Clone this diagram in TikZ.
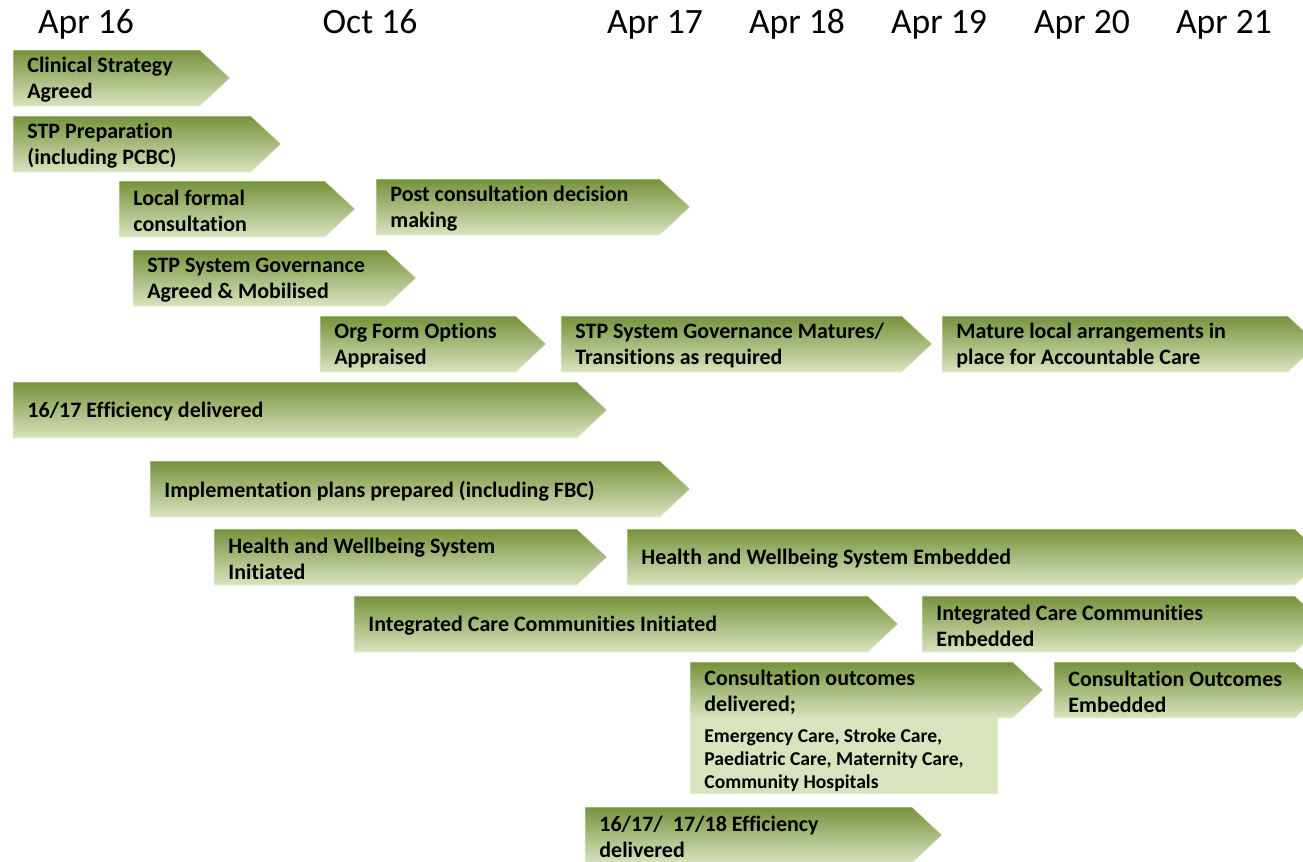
\documentclass[tikz,border=0pt]{standalone}
\usepackage{fontspec}
\setmainfont[Ligatures=NoCommon]{Carlito}
\definecolor{barTop}{RGB}{118,146,60}
\definecolor{barBot}{RGB}{216,228,190}

% one timeline bar: name, left x, tip x, top y, text
\newcommand{\phase}[5]{%
  \shade[bar] (#2,#4) -- (#3-30,#4) -- (#3,#4+28) -- (#3-30,#4+56) -- (#2,#4+56) -- cycle;
  \node[lbl] (#1) at (#2+14,#4+30) {#5};
}

\begin{document}
\begin{tikzpicture}[
x=0.5pt, y=-0.5pt,
bar/.style={top color=barTop, bottom color=barBot, draw=barBot!50!white, line width=0.3pt},
lbl/.style={anchor=west, align=left, inner sep=0pt, font=\fontsize{11}{13}\selectfont\bfseries},
small/.style={anchor=north west, align=left, inner sep=0pt, font=\fontsize{9.8}{11.6}\selectfont\bfseries},
yr/.style={anchor=base, inner sep=0pt, font=\fontsize{17.8}{20}\selectfont}
]
\useasboundingbox (0,0) rectangle (1303,862);
\clip (0,0) rectangle (1303,862);

\node[yr] (apr16) at (86,33) {Apr 16};
\node[yr] (oct16) at (370,33) {Oct 16};
\node[yr] (apr17) at (655,33) {Apr 17};
\node[yr] (apr18) at (797,33) {Apr 18};
\node[yr] (apr19) at (939,33) {Apr 19};
\node[yr] (apr20) at (1082,33) {Apr 20};
\node[yr] (apr21) at (1224,33) {Apr 21};

\phase{clin}{13}{230}{50}{Clinical Strategy\\Agreed}
\phase{prep}{13}{281}{116}{STP Preparation\\(including PCBC)}
\phase{local}{119}{355}{181}{Local formal\\consultation}
\phase{postc}{376}{690}{179}{Post consultation decision\\making}
\phase{govagr}{133}{416}{250}{STP System Governance\\Agreed \& Mobilised}
\phase{orgform}{320}{546}{316}{Org Form Options\\Appraised}
\phase{govmat}{561}{932}{316}{STP System Governance Matures/\\Transitions as required}
\phase{mature}{942}{1318}{316}{Mature local arrangements in\\place for Accountable Care}
\phase{effa}{13}{607}{382}{16/17 Efficiency delivered}
\phase{impl}{150}{690}{461}{Implementation plans prepared (including FBC)}
\phase{hwbi}{214}{607}{529}{Health and Wellbeing System\\Initiated}
\phase{hwbe}{627}{1325}{529}{Health and Wellbeing System Embedded}
\phase{icci}{354}{898}{596}{Integrated Care Communities Initiated}
\phase{icce}{922}{1325}{596}{Integrated Care Communities\\Embedded}

% consultation outcomes, with its list hanging below
\fill[barBot] (690,716) rectangle (998,794);
\shade[top color=barTop, bottom color=barBot] (690,662) -- (1013,662) -- (1043,690) -- (1013,718) -- (690,718) -- cycle;
\draw[barBot!50!white, line width=0.3pt] (690,662) -- (1013,662) -- (1043,690) -- (1013,718) -- (998,718) -- (998,794) -- (690,794) -- cycle;
\node[lbl, anchor=north west] (cod) at (704,670) {Consultation outcomes\\delivered;};
\node[small] (codl) at (704,728) {Emergency Care, Stroke Care,\\Paediatric Care, Maternity Care,\\Community Hospitals};

\phase{coe}{1054}{1325}{662}{Consultation Outcomes\\Embedded}
\phase{effb}{585}{942}{807}{16/17/\ \ 17/18 Efficiency\\delivered}
\end{tikzpicture}
\end{document}
